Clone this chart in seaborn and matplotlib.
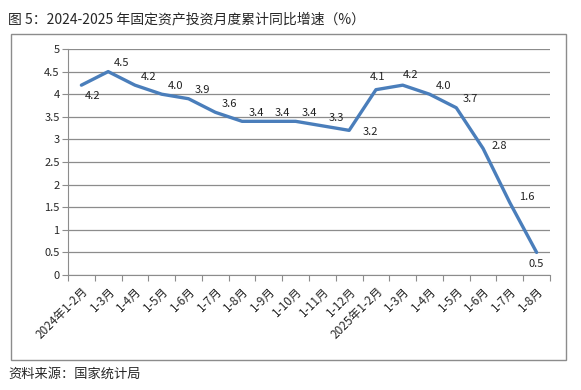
import matplotlib
matplotlib.use('Agg')
import matplotlib.pyplot as plt
import seaborn as sns
import pandas as pd
from matplotlib.patches import Rectangle

months = ['2024年1-2月', '1-3月', '1-4月', '1-5月', '1-6月', '1-7月', '1-8月', '1-9月',
          '1-10月', '1-11月', '1-12月', '2025年1-2月', '1-3月', '1-4月', '1-5月', '1-6月',
          '1-7月', '1-8月']
growth = [4.2, 4.5, 4.2, 4.0, 3.9, 3.6, 3.4, 3.4, 3.4, 3.3, 3.2, 4.1, 4.2, 4.0, 3.7, 2.8, 1.6, 0.5]

# label offsets (points) that differ from the default up-right placement
special_off = {0: (8, -8), 10: (15, -1), 11: (1.5, 9), 12: (6, 7), 15: (12, 2), 16: (12, 4), 17: (0, -8)}

sns.set_style('white')
plt.rcParams['font.family'] = ['Noto Sans CJK SC', 'DejaVu Sans']

df = pd.DataFrame({'pos': range(len(growth)), 'val': growth})

fig = plt.figure(figsize=(5.81, 3.9), dpi=100)
ax = fig.add_axes([68 / 581, 1 - 275 / 390, 482 / 581, 226 / 390])

sns.lineplot(data=df, x='pos', y='val', ax=ax, color='#4a7ebb', linewidth=2.4)

for i, v in enumerate(growth):
    off = special_off.get(i, (10, 6))
    ax.annotate(f'{v:.1f}', (i, v), xytext=off, textcoords='offset points',
                ha='center', va='center', fontsize=8, color='#222222')

ax.set_xlim(-0.5, len(growth) - 0.5)
ax.set_ylim(0, 5)
ax.set_yticks([i * 0.5 for i in range(11)])
ax.set_yticklabels(['0', '0.5', '1', '1.5', '2', '2.5', '3', '3.5', '4', '4.5', '5'], fontsize=8)
ax.yaxis.grid(True, color='#8c8c8c', linewidth=0.9)
ax.set_axisbelow(True)

ax.set_xticks([i - 0.5 for i in range(len(growth) + 1)])
ax.set_xticklabels([])
ax.set_xticks(range(len(growth)), minor=True)
ax.set_xticklabels(months, minor=True, rotation=45, ha='right', rotation_mode='anchor', fontsize=8.5)
ax.tick_params(axis='x', which='major', direction='out', length=4, color='#8c8c8c', bottom=True)
ax.tick_params(axis='x', which='minor', length=0, pad=7)
ax.tick_params(axis='y', direction='out', length=4, color='#8c8c8c', left=True, pad=2)

for s in ['top', 'right']:
    ax.spines[s].set_visible(False)
ax.spines['left'].set_color('#8c8c8c')
ax.spines['bottom'].set_color('#8c8c8c')
ax.set_xlabel('')
ax.set_ylabel('')

fig.patches.append(Rectangle((11 / 581, 1 - 360 / 390), 555 / 581, 326 / 390,
                             transform=fig.transFigure, fill=False, edgecolor='#8c8c8c', linewidth=1))

fig.text(8 / 581, 1 - 19 / 390, '图 5：2024-2025 年固定资产投资月度累计同比增速（%）', fontsize=10, va='center')
fig.text(8 / 581, 1 - 374 / 390, '资料来源：国家统计局', fontsize=9.5, va='center')

fig.savefig('out.png', dpi=100)
